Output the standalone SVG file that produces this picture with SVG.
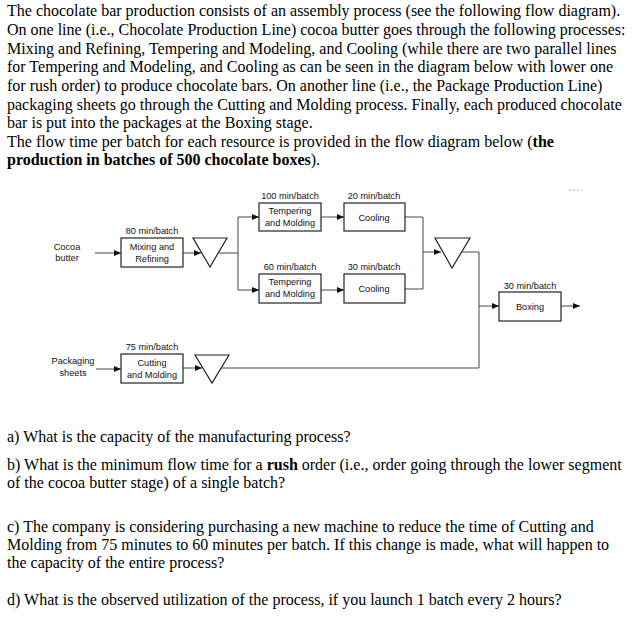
<svg xmlns="http://www.w3.org/2000/svg" width="635" height="631" viewBox="0 0 635 631">
<style>
.p{font-family:"Liberation Serif","Times New Roman",serif;font-size:16px;fill:#000}
.b{font-weight:bold}
.d{font-family:"Liberation Sans",Arial,sans-serif;font-size:9.2px;fill:#111;text-anchor:middle}
.box{fill:#fff;stroke:#222;stroke-width:1.2}
.tri{fill:#fff;stroke:#222;stroke-width:1.2}
.ln{fill:none;stroke:#444;stroke-width:1}
</style>
<defs>
<marker id="ah" markerWidth="7" markerHeight="6" refX="7" refY="3" orient="auto" markerUnits="userSpaceOnUse">
<path d="M0,0 L7,3 L0,6 Z" fill="#111"/>
</marker>
</defs>
<rect width="635" height="631" fill="#fff"/>
<g id="intro">
<text class="p" x="7" y="16">The chocolate bar production consists of an assembly process (see the following flow diagram).</text>
<text class="p" x="7" y="35">On one line (i.e., Chocolate Production Line) cocoa butter goes through the following processes:</text>
<text class="p" x="7" y="54">Mixing and Refining, Tempering and Modeling, and Cooling (while there are two parallel lines</text>
<text class="p" x="7" y="72">for Tempering and Modeling, and Cooling as can be seen in the diagram below with lower one</text>
<text class="p" x="7" y="91">for rush order) to produce chocolate bars. On another line (i.e., the Package Production Line)</text>
<text class="p" x="7" y="110">packaging sheets go through the Cutting and Molding process. Finally, each produced chocolate</text>
<text class="p" x="7" y="128">bar is put into the packages at the Boxing stage.</text>
<text class="p" x="7" y="147">The flow time per batch for each resource is provided in the flow diagram below (<tspan class="b">the</tspan></text>
<text class="p" x="7" y="165"><tspan class="b">production in batches of 500 chocolate boxes</tspan>).</text>
</g>
<g id="connectors">
<line class="ln" x1="95" y1="253" x2="121" y2="253" marker-end="url(#ah)"/>
<line class="ln" x1="183" y1="253" x2="201" y2="253" marker-end="url(#ah)"/>
<polyline class="ln" points="219,253 238,253"/>
<polyline class="ln" points="238,253 238,217 259,217" marker-end="url(#ah)"/>
<polyline class="ln" points="238,253 238,290 259,290" marker-end="url(#ah)"/>
<line class="ln" x1="321" y1="217" x2="344" y2="217" marker-end="url(#ah)"/>
<line class="ln" x1="321" y1="290" x2="344" y2="290" marker-end="url(#ah)"/>
<polyline class="ln" points="405,217 423,217 423,289 405,289"/>
<line class="ln" x1="423" y1="252" x2="441" y2="252" marker-end="url(#ah)"/>
<polyline class="ln" points="462,252 479,252 479,368 220,368"/>
<line class="ln" x1="479" y1="306" x2="499" y2="306" marker-end="url(#ah)"/>
<line class="ln" x1="561" y1="306" x2="580" y2="306" marker-end="url(#ah)"/>
<line class="ln" x1="96" y1="369" x2="121" y2="369" marker-end="url(#ah)"/>
<line class="ln" x1="183" y1="368" x2="202" y2="368" marker-end="url(#ah)"/>
<line x1="569" y1="190" x2="582" y2="190" stroke="#999" stroke-width="0.8" stroke-dasharray="2,2"/>
</g>
<g id="cocoa">
<text class="d" x="67" y="250">Cocoa</text>
<text class="d" x="67" y="261">butter</text>
</g>
<g id="mixing">
<text class="d" x="152" y="234">80 min/batch</text>
<rect class="box" x="121" y="238" width="62" height="29"/>
<text class="d" x="152" y="250">Mixing and</text>
<text class="d" x="152" y="262">Refining</text>
</g>
<g id="inv1"><polygon class="tri" points="193,238 227,238 210,267"/></g>
<g id="temper1">
<text class="d" x="290" y="199">100 min/batch</text>
<rect class="box" x="259" y="203" width="62" height="28"/>
<text class="d" x="290" y="214">Tempering</text>
<text class="d" x="290" y="226">and Molding</text>
</g>
<g id="cool1">
<text class="d" x="374" y="199">20 min/batch</text>
<rect class="box" x="344" y="203" width="61" height="28"/>
<text class="d" x="374" y="221">Cooling</text>
</g>
<g id="temper2">
<text class="d" x="290" y="270">60 min/batch</text>
<rect class="box" x="259" y="274" width="62" height="29"/>
<text class="d" x="290" y="285">Tempering</text>
<text class="d" x="290" y="297">and Molding</text>
</g>
<g id="cool2">
<text class="d" x="374" y="270">30 min/batch</text>
<rect class="box" x="344" y="274" width="61" height="29"/>
<text class="d" x="374" y="292">Cooling</text>
</g>
<g id="inv2"><polygon class="tri" points="435,238 470,238 452,268"/></g>
<g id="boxing">
<text class="d" x="530" y="289">30 min/batch</text>
<rect class="box" x="499" y="292" width="62" height="29"/>
<text class="d" x="530" y="310">Boxing</text>
</g>
<g id="packaging">
<text class="d" x="73" y="364">Packaging</text>
<text class="d" x="73" y="376">sheets</text>
</g>
<g id="cutting">
<text class="d" x="152" y="350">75 min/batch</text>
<rect class="box" x="121" y="354" width="62" height="29"/>
<text class="d" x="152" y="366">Cutting</text>
<text class="d" x="152" y="378">and Molding</text>
</g>
<g id="inv3"><polygon class="tri" points="195,355 229,355 212,383"/></g>
<g id="questions">
<text class="p" x="7" y="442">a) What is the capacity of the manufacturing process?</text>
<text class="p" x="7" y="470">b) What is the minimum flow time for a <tspan class="b">rush</tspan> order (i.e., order going through the lower segment</text>
<text class="p" x="7" y="488">of the cocoa butter stage) of a single batch?</text>
<text class="p" x="7" y="532">c) The company is considering purchasing a new machine to reduce the time of Cutting and</text>
<text class="p" x="7" y="550">Molding from 75 minutes to 60 minutes per batch. If this change is made, what will happen to</text>
<text class="p" x="7" y="568">the capacity of the entire process?</text>
<text class="p" x="7" y="605">d) What is the observed utilization of the process, if you launch 1 batch every 2 hours?</text>
</g>
</svg>
